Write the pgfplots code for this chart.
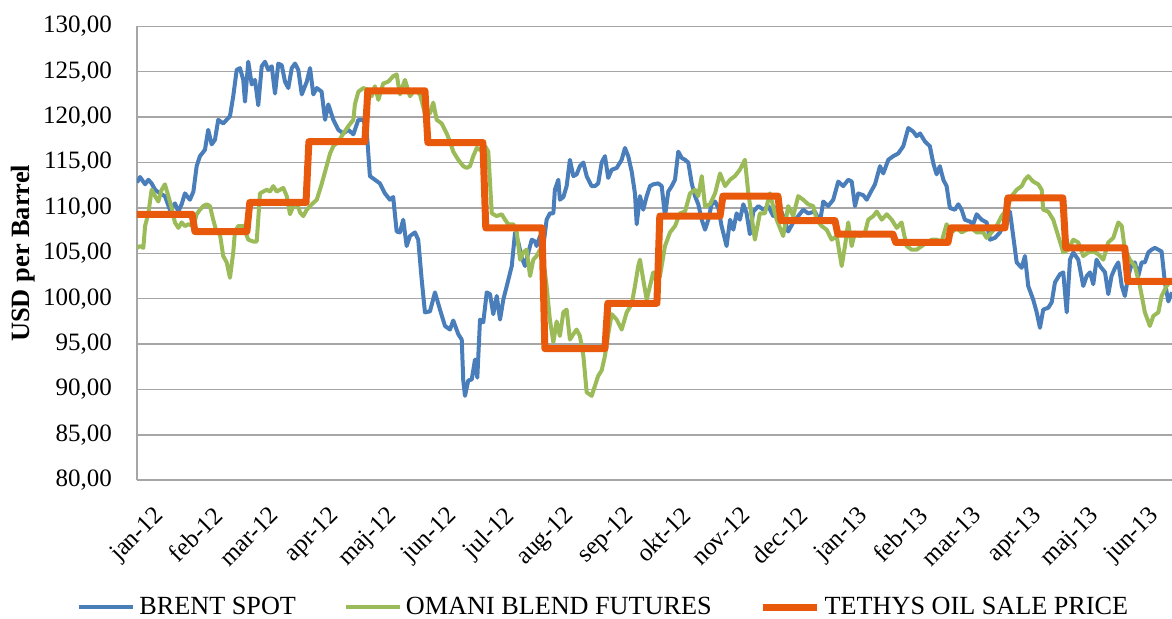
\documentclass[border=0pt]{standalone}
\usepackage{fontspec}
\setmainfont{Liberation Serif}
\usepackage{pgfplots}
\usepackage{pgfplotstable}
\pgfplotsset{compat=1.18}
\definecolor{brent}{HTML}{4A7EBB}
\definecolor{omani}{HTML}{9BBB59}
\definecolor{tethys}{HTML}{E8590C}
\definecolor{gridc}{HTML}{A6A6A6}

% x = days since 1 Jan 2012
\pgfplotstableread{
x y
0 112.8
1.6 113.4
4.2 112.6
5.9 113.1
7.6 112.7
9.4 112.0
11.9 111.6
14.5 111.3
17.1 109.8
19.7 110.5
21.5 109.6
23.2 110.4
24.9 111.6
27.5 110.9
29.3 111.8
31.0 114.6
32.7 115.7
35.3 116.4
37.0 118.6
38.8 117.0
40.5 117.5
42.2 119.7
44.8 119.3
48.3 120.1
50.0 122.3
51.8 125.2
53.5 125.4
55.2 124.1
56.1 121.7
57.8 126.1
59.6 123.6
61.3 124.1
63.0 121.3
64.8 125.6
66.5 126.1
68.2 125.2
70.0 125.6
71.7 122.6
73.4 125.9
75.2 125.7
76.9 123.9
78.6 123.2
80.4 125.4
82.1 125.9
83.8 125.2
85.6 122.5
88.2 123.9
89.9 125.4
91.6 122.5
93.4 123.2
95.9 122.8
97.7 119.7
99.4 121.4
102.0 119.7
104.6 118.6
107.2 118.2
109.8 118.6
112.4 118.1
115.0 119.7
117.6 119.7
119.3 118.6
121.0 113.5
123.6 113.1
126.2 112.7
128.8 111.6
131.4 110.9
133.1 111.2
134.9 107.4
136.6 107.3
138.3 108.7
140.1 105.8
141.8 106.9
144.4 107.3
146.1 106.5
147.9 102.1
149.6 98.5
152.2 98.6
154.8 100.7
157.4 98.8
160.0 97.0
162.6 96.6
164.3 97.6
166.9 96.1
168.7 95.5
169.5 91.0
170.4 89.3
172.1 91.0
173.9 91.1
175.6 93.3
176.8 91.3
178.2 97.7
179.9 97.4
181.7 100.7
183.4 100.5
185.1 98.3
186.9 100.3
188.6 97.7
190.3 99.9
192.1 101.4
194.7 103.6
196.4 107.3
198.1 106.2
199.9 104.5
201.6 103.6
203.3 105.1
205.1 106.5
206.8 106.3
207.6 105.8
209.4 106.9
211.1 105.8
212.8 108.7
214.5 109.4
216.3 109.4
217.1 112.0
218.9 113.1
219.7 110.9
221.5 111.2
223.2 112.4
224.9 115.3
226.7 113.5
228.4 113.7
230.1 114.6
231.9 115.0
233.6 113.5
236.2 112.4
237.9 112.4
239.6 112.7
241.4 115.0
243.1 115.7
244.8 113.3
246.6 114.2
249.2 114.4
251.8 115.3
253.5 116.6
255.2 115.7
257.0 114.0
258.7 111.6
259.6 108.2
261.3 111.3
263.0 109.8
264.8 111.3
266.5 112.4
268.2 112.6
270.8 112.7
272.6 112.4
274.3 109.1
276.0 111.8
277.8 112.4
279.5 113.1
281.2 116.2
283.0 115.5
284.7 115.3
286.4 115.0
288.2 112.7
289.9 111.3
291.6 110.4
293.4 108.7
295.1 107.6
296.8 108.7
298.5 110.4
300.3 110.7
302.0 110.0
303.7 108.0
306.3 105.8
308.1 108.7
309.8 107.6
311.5 109.4
313.2 108.7
315.0 110.4
316.7 109.4
318.4 107.1
320.2 109.6
322.8 110.2
325.4 109.8
328.0 110.2
330.5 109.1
333.2 110.4
335.7 109.1
338.3 107.4
340.9 108.4
343.5 109.1
346.1 109.8
348.7 109.4
352.2 109.6
354.8 108.4
356.5 110.7
359.1 110.2
361.7 110.9
364.3 112.9
366.9 112.4
369.5 113.1
371.3 112.9
373.0 110.2
374.7 111.6
377.3 111.4
379.1 110.9
380.8 111.6
383.4 112.6
386.0 114.6
387.7 113.8
390.3 115.3
392.9 115.7
395.5 116.0
398.1 116.8
400.7 118.8
403.3 118.4
405.0 117.9
406.8 118.2
409.4 117.3
411.9 116.8
413.7 114.9
415.4 113.7
417.1 114.6
418.9 113.1
420.6 112.4
422.3 110.0
424.9 109.8
426.7 110.4
428.4 109.8
430.1 108.7
432.7 108.5
434.4 108.2
436.2 109.3
438.8 108.7
441.4 108.4
443.1 106.5
445.7 106.7
448.3 107.3
450.9 108.5
453.5 109.6
455.2 106.9
457.0 104.0
459.6 103.4
461.3 104.7
463.0 101.4
465.6 99.9
467.4 98.5
469.1 96.8
470.8 98.8
473.4 99.0
475.2 99.6
476.9 101.8
479.5 102.7
481.2 102.9
483.0 98.5
484.7 104.3
486.4 105.1
489.0 104.3
491.6 101.4
493.4 102.5
495.1 102.9
496.8 101.6
498.5 104.3
500.3 103.6
502.9 102.9
504.6 100.5
506.3 102.5
508.1 103.4
509.8 104.0
511.6 101.4
513.2 100.3
515.0 102.5
516.7 103.8
518.4 104.0
520.2 102.5
521.9 104.0
523.6 104.0
525.4 105.1
527.1 105.4
528.8 105.6
530.6 105.4
532.3 105.2
534.0 101.8
535.8 99.7
537.7 100.7
}\brenttable

\pgfplotstableread{
x y
0 105.6
1.6 105.8
3.3 105.6
4.2 108.0
5.9 109.4
7.6 112.0
9.4 111.3
11.1 110.7
12.8 112.0
14.5 112.6
16.3 111.3
18.0 110.0
19.7 108.4
21.5 107.8
23.2 108.4
24.9 108.0
26.7 108.2
29.3 108.0
31.0 109.3
32.7 109.8
34.4 110.2
36.2 110.4
37.9 110.2
39.6 108.7
41.4 107.3
43.1 107.1
44.8 104.7
46.6 104.0
48.3 102.3
50.0 105.1
50.9 107.4
52.6 108.0
55.2 108.0
57.8 106.5
60.4 106.3
62.2 106.3
63.9 111.6
65.6 111.8
67.4 112.0
69.1 111.8
70.8 112.4
72.6 111.8
74.3 112.0
76.0 112.2
77.8 111.3
79.5 109.3
81.2 110.2
83.0 110.6
84.7 109.5
86.4 109.1
88.2 109.8
90.8 110.4
93.4 110.9
95.9 112.6
98.5 114.6
100.3 116.0
102.0 116.8
104.6 117.3
107.2 118.2
109.8 119.0
112.4 119.7
113.2 121.4
115.0 122.8
117.6 123.2
120.2 123.0
121.9 122.3
123.6 123.4
125.4 121.9
127.9 123.7
130.5 123.9
133.1 124.5
134.9 124.7
136.6 122.5
139.2 124.1
141.8 122.3
144.4 123.0
147.0 122.5
149.6 120.4
152.2 120.4
153.9 121.6
155.7 119.7
158.3 119.3
160.9 118.2
162.6 117.3
164.3 116.2
166.9 115.3
169.5 114.6
171.3 114.4
173.0 114.6
174.7 115.7
176.5 116.6
178.2 116.4
180.8 116.8
182.5 116.2
184.3 109.4
186.9 109.1
189.5 109.3
191.2 108.7
192.9 108.2
195.5 108.2
197.3 107.3
199.0 104.3
200.7 105.1
202.4 105.4
204.2 102.5
205.9 104.3
207.6 104.7
209.4 105.4
211.1 104.3
212.8 101.4
214.5 97.7
216.3 95.2
218.0 97.5
219.7 95.9
221.5 98.5
223.2 98.8
224.9 95.5
226.7 96.1
228.4 96.6
230.1 95.9
231.9 93.7
233.6 89.7
236.2 89.3
237.9 90.4
239.6 91.5
241.4 92.1
243.1 93.7
244.8 96.1
246.6 98.3
249.2 97.7
251.8 96.6
254.4 98.5
257.0 99.4
258.7 101.4
260.4 103.6
261.3 104.3
263.0 102.1
264.8 99.9
266.5 101.4
268.2 102.9
270.0 101.8
271.7 102.5
274.3 105.8
276.9 107.3
279.5 108.0
282.1 109.4
284.7 109.6
287.3 111.6
289.9 112.0
291.6 111.3
293.4 113.5
295.1 110.2
297.7 110.4
300.3 111.6
302.9 113.8
305.5 112.4
308.1 113.1
310.6 113.5
313.2 114.2
315.8 115.3
317.6 111.6
321.0 106.5
323.6 109.4
326.2 109.4
328.8 111.6
332.3 108.7
335.7 106.9
338.3 110.2
340.9 109.1
343.5 111.3
346.1 110.9
348.7 110.4
351.3 110.2
353.1 108.7
355.7 108.0
358.3 107.6
360.9 106.5
363.5 106.9
366.1 103.6
367.8 105.8
369.5 108.4
371.3 105.8
373.0 107.3
375.6 106.9
378.2 107.3
379.9 108.7
382.5 109.1
384.3 109.6
386.9 108.7
389.5 109.3
392.1 108.7
394.7 107.8
397.2 108.4
399.8 105.8
402.4 105.4
405.0 105.4
407.7 105.8
410.3 106.2
412.9 106.5
415.4 106.5
418.0 106.3
420.6 108.2
423.2 107.3
425.8 107.8
428.4 107.3
431.0 107.6
433.6 107.8
436.2 107.3
439.6 107.3
441.4 106.7
444.0 107.3
446.6 108.0
449.2 109.1
451.8 109.8
454.4 111.3
457.0 112.0
459.6 112.4
461.3 113.1
463.0 113.5
465.6 112.9
468.2 112.6
470.0 112.0
470.8 109.8
473.4 109.6
476.0 108.7
478.6 106.9
481.2 105.1
483.8 105.4
486.4 106.5
489.0 106.2
491.6 104.7
494.2 105.1
496.8 105.2
499.4 104.9
502.0 104.3
504.6 106.2
507.2 106.7
509.8 108.4
511.6 108.0
513.2 105.4
515.8 104.3
518.4 103.6
521.0 101.4
523.6 98.5
526.2 97.0
528.0 98.1
530.6 98.5
532.3 100.3
534.9 101.4
537.7 102.1
}\omanitable

\pgfplotstableread{
x y
0 109.3
28.6 109.3
30.1 107.4
57.1 107.4
58.6 110.6
87.8 110.6
89.3 117.3
118.4 117.3
119.9 122.9
149.6 122.9
151.1 117.2
179.7 117.2
181.2 107.8
210.4 107.8
211.9 94.5
243.1 94.5
244.6 99.5
270.1 99.5
271.6 109.1
302.9 109.1
304.4 111.3
333.0 111.3
334.5 108.6
362.6 108.6
364.1 107.1
392.7 107.1
394.2 106.2
421.3 106.2
422.8 107.8
450.9 107.8
452.4 111.1
481.0 111.1
482.5 105.6
513.2 105.6
514.7 101.9
537.7 101.9
}\tethystable

\begin{document}
\begin{tikzpicture}
\begin{axis}[
  at={(0,0)}, anchor=south west,
  scale only axis,
  width=517.5pt, height=227pt,
  xmin=0, xmax=537.7,
  ymin=80, ymax=130,
  ytick={80,85,...,130},
  xtick={0,31,60,91,121,152,182,213,244,274,305,335,366,397,425,456,486,517},
  xticklabels={jan-12,feb-12,mar-12,apr-12,maj-12,jun-12,jul-12,aug-12,sep-12,okt-12,nov-12,dec-12,jan-13,feb-13,mar-13,apr-13,maj-13,jun-13},
  axis x line*=bottom, axis y line*=left,
  axis line style={gridc, line width=0.9pt},
  major tick length=0pt,
  ymajorgrids, grid style={gridc, line width=0.75pt},
  /pgf/number format/assume math mode=true,
  /pgf/number format/fixed,
  /pgf/number format/fixed zerofill,
  /pgf/number format/precision=2,
  /pgf/number format/use comma,
  /pgf/number format/1000 sep={},
  ticklabel style={font=\fontsize{12.5}{14}\selectfont, text=black},
  xticklabel style={rotate=45, anchor=north east, inner sep=0pt, yshift=-14pt, xshift=-3pt},
  yticklabel style={xshift=-9pt},
  ylabel={\textbf{USD per Barrel}},
  ylabel style={font=\fontsize{13.2}{15}\selectfont, at={(axis description cs:-0.1101,0.5)}, anchor=center},
  legend columns=3,
  legend style={draw=none, fill=none, at={(0.452,-0.28)}, anchor=center,
    font=\fontsize{13.1}{15}\selectfont,
    /tikz/every even column/.append style={column sep=22pt},
    inner sep=0pt},
  legend image code/.code={\draw[#1] (0pt,0pt) -- (27pt,0pt);},
  clip=true,
]
\addplot[brent, line width=2pt, line join=round] table[x=x,y=y] {\brenttable};
\addlegendentry{BRENT SPOT}
\addplot[omani, line width=2pt, line join=round] table[x=x,y=y] {\omanitable};
\addlegendentry{OMANI BLEND FUTURES}
\addplot[tethys, line width=3.5pt, line join=round] table[x=x,y=y] {\tethystable};
\addlegendentry{TETHYS OIL SALE PRICE}
\end{axis}
\pgfresetboundingbox
\useasboundingbox (-68.5pt,-68.85pt) rectangle (517.5pt,240.15pt);
\end{tikzpicture}
\end{document}
